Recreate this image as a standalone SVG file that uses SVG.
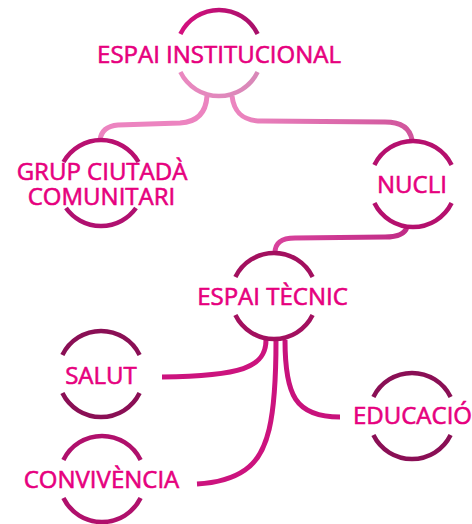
<svg xmlns="http://www.w3.org/2000/svg" width="472" height="524" viewBox="0 0 472 524">
  <defs>
    <linearGradient id="gEItop" x1="0" y1="0" x2="1" y2="0">
      <stop offset="0" stop-color="#d4107f"/>
      <stop offset="1" stop-color="#a8106a"/>
    </linearGradient>
    <linearGradient id="gEIbot" x1="0" y1="0" x2="1" y2="0">
      <stop offset="0" stop-color="#ea88c0"/>
      <stop offset="1" stop-color="#d888b8"/>
    </linearGradient>
    <linearGradient id="gRight" x1="0" y1="0" x2="1" y2="0">
      <stop offset="0" stop-color="#ec86c0"/>
      <stop offset="1" stop-color="#d0559c"/>
    </linearGradient>
    <linearGradient id="gNucli" x1="0" y1="0" x2="1" y2="0">
      <stop offset="0" stop-color="#d8429c"/>
      <stop offset="1" stop-color="#c02c86"/>
    </linearGradient>
  </defs>
  <style>
    .arc { fill: none; stroke-width: 4.5; }
    .con { fill: none; stroke-width: 5; stroke-linecap: butt; }
    .lbl { font-family: "Open Sans", "Noto Sans", sans-serif; font-size: 24px; fill: #e6007e; stroke: #e6007e; stroke-width: 0.6; text-anchor: middle; }
  </style>

  <g id="connectors">
    <path class="con" stroke="#ec84c0" d="M207,96 C206,112 198,122 180,123 L118,125 C106,126 101,132 100,140"/>
    <path class="con" stroke="url(#gRight)" d="M232,96 C234,112 242,121 262,121 L385,122 C401,122 410,128 412,140"/>
    <path class="con" stroke="url(#gNucli)" d="M407,227 C405,234 398,237 385,237 L295,238 C281,238 275,243 275,253"/>
    <path class="con" stroke="#cc137e" d="M266,340 C266,368 240,376 162,377"/>
    <path class="con" stroke="#cc137e" d="M276,340 C276,420 268,455 245,470 C232,479 215,483 197,484"/>
    <path class="con" stroke="#c8127c" d="M285,340 C285,395 295,417 340,417"/>
  </g>

  <g id="espai-institucional">
    <path class="arc" stroke="url(#gEItop)" d="M180.4,34 A43,43 0 0 1 257.6,34"/>
    <path class="arc" stroke="url(#gEIbot)" d="M180.4,72 A43,43 0 0 0 257.6,72"/>
    <text class="lbl" x="219" y="63">ESPAI INSTITUCIONAL</text>
  </g>

  <g id="grup-ciutada">
    <path class="arc" stroke="#b81070" d="M63.5,162 A43,43 0 0 1 138.5,162"/>
    <path class="arc" stroke="#b01070" d="M66,208 A43,43 0 0 0 136,208"/>
    <text class="lbl"><tspan x="102" y="180">GRUP CIUTADÀ</tspan><tspan x="101.5" y="205">COMUNITARI</tspan></text>
  </g>

  <g id="nucli">
    <path class="arc" stroke="#b5106e" d="M374.4,165 A43,43 0 0 1 451.6,165"/>
    <path class="arc" stroke="#b5106e" d="M374.4,203 A43,43 0 0 0 451.6,203"/>
    <text class="lbl" x="412" y="193">NUCLI</text>
  </g>

  <g id="espai-tecnic">
    <path class="arc" stroke="#a3105f" d="M235.4,277 A43,43 0 0 1 312.6,277"/>
    <path class="arc" stroke="#a3105f" d="M235.4,315 A43,43 0 0 0 312.6,315"/>
    <text class="lbl" x="272.5" y="305">ESPAI TÈCNIC</text>
  </g>

  <g id="salut">
    <path class="arc" stroke="#8a0f55" d="M62.4,355 A43,43 0 0 1 139.6,355"/>
    <path class="arc" stroke="#8a0f55" d="M62.4,393 A43,43 0 0 0 139.6,393"/>
    <text class="lbl" x="101" y="384">SALUT</text>
  </g>

  <g id="convivencia">
    <path class="arc" stroke="#b0106c" d="M63.4,460 A43,43 0 0 1 140.6,460"/>
    <path class="arc" stroke="#b0106c" d="M63.4,498 A43,43 0 0 0 140.6,498"/>
    <text class="lbl" x="101.5" y="488">CONVIVÈNCIA</text>
  </g>

  <g id="educacio">
    <path class="arc" stroke="#8a0f55" d="M373.4,397 A43,43 0 0 1 450.6,397"/>
    <path class="arc" stroke="#8a0f55" d="M373.4,435 A43,43 0 0 0 450.6,435"/>
    <text class="lbl" x="412.5" y="424">EDUCACIÓ</text>
  </g>
</svg>
